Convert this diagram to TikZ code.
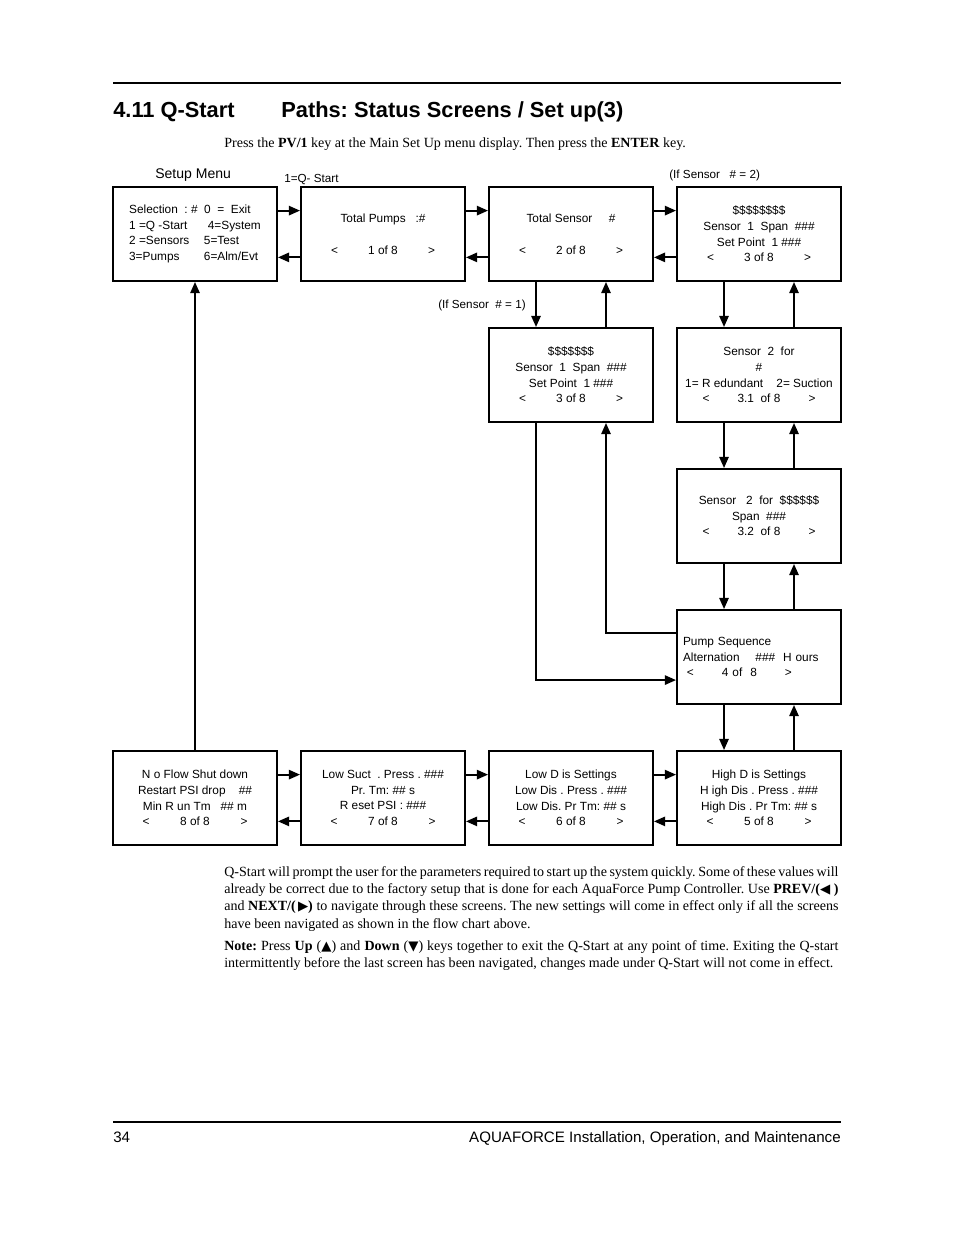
\documentclass[tikz,border=0pt]{standalone}
\usepackage{fontspec}
\setmainfont{Liberation Serif}
\newfontfamily\arial{Liberation Sans}
\newfontfamily\symf{DejaVu Sans}
\usetikzlibrary{arrows.meta,calc}
\frenchspacing
\newdimen\pxu \pxu=0.64151pt
\newcommand\nav[2]{\hbox to #1\pxu{<\hfil #2\hfil >}}
\newcommand\tri[1]{{\symf\fontsize{8.5}{8}\selectfont #1}}
\tikzset{
  scr/.style={draw,line width=1.25pt,minimum width=105.2pt,minimum height=60.3pt,
    inner sep=0pt,align=center,font=\arial\fontsize{7.6}{10}\selectfont},
  arr/.style={line width=1.2pt,-{Triangle[length=7.2pt,width=6pt]}},
  lbl/.style={inner sep=0pt,font=\arial\fontsize{7.5}{10}\selectfont},
  body/.style={inner sep=0pt,font=\fontsize{9}{11.2}\selectfont},
}
\begin{document}
\begin{tikzpicture}[x=0.64151pt,y=-0.64151pt]
\fill[white] (0,0) rectangle (954,1235);
\useasboundingbox (0,0) rectangle (954,1235);

% header
\draw[line width=1.8pt] (113,83) -- (841,83);
\node[anchor=base west,inner sep=0pt,font=\arial\bfseries\fontsize{14}{16}\selectfont] (h1) at (113,118) {4.11 Q-Start};
\node[anchor=base west,inner sep=0pt,font=\arial\bfseries\fontsize{14}{16}\selectfont] (h2) at (281,118) {Paths: Status Screens / Set up(3)};
\node[body,anchor=base west] (sub) at (224,148) {Press the \textbf{PV/1} key at the Main Set Up menu display. Then press the \textbf{ENTER} key.};

% labels
\node[inner sep=0pt,anchor=base west,font=\arial\fontsize{9}{11}\selectfont] (setup) at (155,179) {Setup Menu};
\node[lbl,anchor=base west] (qs) at (284,183) {1=Q- Start};
\node[lbl,anchor=base west] (if2) at (669,179) {(If Sensor~~ \# = 2)};
\node[lbl,anchor=base west] (if1) at (438,309) {(If Sensor~ \# = 1)};

% screens
\node[scr] (A) at (195,234) {\begin{tabular}{@{}p{48pt}@{}l@{}}
 \multicolumn{2}{@{}l@{}}{Selection~ :~\#~ 0~ =~ Exit}\\
 1 =Q -Start & \hspace{2.5pt}4=System\\
 2 =Sensors & 5=Test\\
 3=Pumps & 6=Alm/Evt\end{tabular}};
\node[scr] (B) at (383,234) {Total Pumps~~ :\#\\[10.5pt]\nav{104}{1 of 8}};
\node[scr] (C) at (571,234) {Total Sensor~~~~ \#\\[10.5pt]\nav{104}{2 of 8}};
\node[scr] (D) at (759,234) {\$\$\$\$\$\$\$\$\\Sensor~ 1~ Span~ \#\#\#\\Set Point~ 1 \#\#\#\\\nav{104}{3 of 8}};
\node[scr] (E) at (571,375) {\$\$\$\$\$\$\$\\Sensor~ 1~ Span~ \#\#\#\\Set Point~ 1 \#\#\#\\\nav{104}{3 of 8}};
\node[scr] (F) at (759,375) {Sensor~ 2~ for\\\#\\1= R edundant~~~ 2= Suction\\\nav{113}{3.1~ of 8}};
\node[scr] (G) at (759,516) {Sensor~~ 2~ for~ \$\$\$\$\$\$\\Span~ \#\#\#\\\nav{113}{3.2~ of 8}};
\node[scr,align=left,text width=97.5pt] (H) at (759,657) {Pump Sequence\\Alternation~~~ \#\#\#~ H ours\\\hspace*{2.5pt}\nav{105}{4 of~ 8}};
\node[scr] (I) at (195,798) {N o Flow Shut down\\Restart PSI drop~~~ \#\#\\Min R un Tm~~ \#\# m\\\nav{105}{8 of 8}};
\node[scr] (J) at (383,798) {Low Suct~ . Press . \#\#\#\\Pr. Tm: \#\# s\\R eset PSI : \#\#\#\\\nav{105}{7 of 8}};
\node[scr] (K) at (571,798) {Low D is Settings\\Low Dis . Press . \#\#\#\\Low Dis. Pr Tm: \#\# s\\\nav{105}{6 of 8}};
\node[scr] (L) at (759,798) {High D is Settings\\H igh Dis . Press . \#\#\#\\High Dis . Pr Tm: \#\# s\\\nav{105}{5 of 8}};

% horizontal arrows
\foreach \p/\q in {A/B,B/C,C/D,I/J,J/K,K/L}{
  \draw[arr] ([yshift=15pt]\p.east) -- ([yshift=15pt]\q.west);
  \draw[arr] ([yshift=-15pt]\q.west) -- ([yshift=-15pt]\p.east);
}
% vertical arrows
\foreach \p/\q in {C/E,D/F,F/G,G/H,H/L}{
  \draw[arr] ([xshift=-22.45pt]\p.south) -- ([xshift=-22.45pt]\q.north);
  \draw[arr] ([xshift=22.45pt]\q.north) -- ([xshift=22.45pt]\p.south);
}
\draw[arr] ([xshift=-22.45pt]E.south) |- ([yshift=-14.8pt]H.west);
\draw[arr] ([yshift=15.4pt]H.west) -| ([xshift=22.45pt]E.south);
\draw[arr] (I.north) -- (A.south);

% body text
\node[body,anchor=base west,text width=394pt,align=justify] (p1) at (224,876) {Q-Start will prompt the user for the parameters required to start up the system quickly. Some of these values will\linebreak
already be correct due to the factory setup that is done for each AquaForce Pump Controller. Use \textbf{PREV/(}\tri{◀}\textbf{ )}\linebreak
and \textbf{NEXT/(\,}\tri{▶}\textbf{)} to navigate through these screens. The new settings will come in effect only if all the screens\linebreak
have been navigated as shown in the flow chart above.};
\node[body,anchor=base west,text width=394pt,align=justify] (p2) at (224,950) {\textbf{Note:} Press \textbf{Up} (\tri{▲}) and \textbf{Down} (\tri{▼}) keys together to exit the Q-Start at any point of time. Exiting the Q-start\linebreak
intermittently before the last screen has been navigated, changes made under Q-Start will not come in effect.};

% footer
\draw[line width=0.7pt] (113,1122) -- (841,1122);
\node[inner sep=0pt,anchor=base west,font=\arial\fontsize{9.7}{11}\selectfont] (pg) at (113,1142) {34};
\node[inner sep=0pt,anchor=base east,font=\arial\fontsize{9.7}{11}\selectfont] (ft) at (841,1142) {AQUAFORCE Installation, Operation, and Maintenance};
\end{tikzpicture}
\end{document}
